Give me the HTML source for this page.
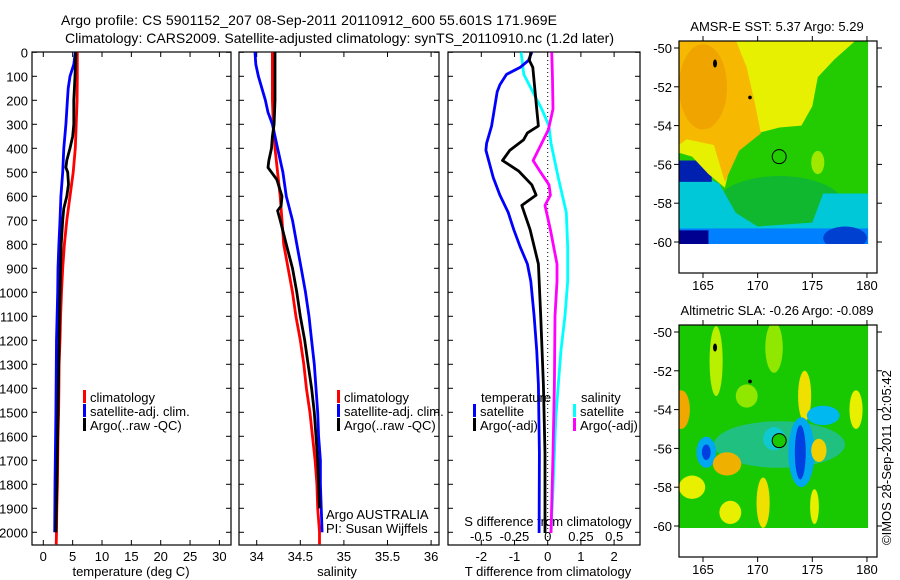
<!DOCTYPE html>
<html><head><meta charset="utf-8">
<style>
html,body{margin:0;padding:0;background:#fff;}
svg{display:block;font-family:"Liberation Sans",sans-serif;}
text{font-size:13px;fill:#000;}
</style></head>
<body>
<svg id="fig" width="900" height="580" viewBox="0 0 900 580" xmlns="http://www.w3.org/2000/svg">
<text x="61" y="25" textLength="496" style="font-size:14px">Argo profile: CS 5901152_207 08-Sep-2011 20110912_600 55.601S 171.969E</text>
<text x="65" y="43" textLength="549" style="font-size:14px">Climatology: CARS2009. Satellite-adjusted climatology: synTS_20110910.nc (1.2d later)</text>
<g id="plots"></g>
</svg>
<script>
// ---------- data ----------
const tDepth = [0,100,200,300,400,500,600,700,800,900,1000,1100,1200,1300,1400,1500,1600,1700,1800,1900,2000,2050];
const tClim  = [5.8,5.8,5.75,5.6,5.45,5.1,4.55,4.0,3.6,3.3,3.1,2.95,2.85,2.7,2.65,2.6,2.5,2.45,2.4,2.3,2.25,2.2];
const tSatDepth = [0,50,100,150,200,300,400,500,600,700,800,900,1000,1200,1500,1800,2000];
const tSat   = [5.45,5.2,4.55,4.25,4.1,3.85,3.5,3.3,3.0,2.85,2.65,2.5,2.45,2.25,2.15,2.0,1.95];
const tArgoDepth = [0,100,200,300,350,400,450,480,500,550,600,650,700,800,900,1000,1200,1500,1800,2000];
const tArgo  = [5.55,5.4,5.2,5.2,5.0,4.55,4.0,3.85,4.15,4.3,4.0,3.5,3.3,3.05,2.95,2.85,2.7,2.5,2.3,2.15];

const sClim  = [34.18,34.18,34.18,34.19,34.21,34.24,34.27,34.29,34.31,34.36,34.41,34.45,34.5,34.54,34.57,34.61,34.64,34.67,34.69,34.70,34.72,34.72];
const sSatDepth = [0,50,100,150,200,250,300,400,500,600,700,800,900,1000,1100,1200,1300,1400,1500,1600,1700,1800,2000];
const sSat   = [33.98,33.99,34.02,34.06,34.10,34.13,34.18,34.24,34.30,34.34,34.41,34.46,34.51,34.56,34.60,34.63,34.66,34.68,34.70,34.71,34.73,34.73,34.75];
const sArgoDepth = [0,100,200,300,350,400,450,480,500,530,600,640,660,700,800,900,1000,1100,1200,1300,1400,1500,1600,1700,1800,1900];
const sArgo  = [34.21,34.21,34.21,34.20,34.18,34.17,34.14,34.13,34.17,34.23,34.29,34.28,34.24,34.27,34.34,34.41,34.46,34.5,34.55,34.59,34.63,34.66,34.68,34.70,34.71,34.72];

const dTSatDepth = [0,34,63,92,135,164,307,379,408,523,595,667,739,810,882,954,1098,1241,1385,1672,2003];
const dTSat = [-0.48,-0.58,-0.83,-1.24,-1.44,-1.52,-1.69,-1.84,-1.86,-1.64,-1.44,-1.19,-1.02,-0.83,-0.61,-0.51,-0.41,-0.33,-0.28,-0.25,-0.26];
const dTArgoDepth = [0,34,63,164,236,307,336,365,408,451,494,552,595,638,739,882,1098,1385,1672,2003];
const dTArgo = [-0.51,-0.55,-0.45,-0.38,-0.33,-0.28,-0.61,-0.73,-1.14,-1.36,-0.88,-0.48,-0.35,-0.78,-0.53,-0.28,-0.21,-0.13,-0.08,-0.08];
const dSSatDepth = [0,92,135,236,307,379,523,667,810,954,1098,1241,1385,1529,1672,1816,2003];
const dSSat = [-0.2,-0.18,-0.14,-0.045,0.01,0.025,0.08,0.14,0.15,0.15,0.13,0.1,0.08,0.06,0.05,0.04,0.025];
const dSArgoDepth = [0,92,236,322,379,451,494,552,595,638,739,882,954,1098,1385,1672,2003];
const dSArgo = [0.03,0.035,0.04,0.005,-0.045,-0.11,-0.06,0.01,0.02,-0.02,0.02,0.07,0.07,0.055,0.05,0.04,0.025];

const depthTicks = [0,100,200,300,400,500,600,700,800,900,1000,1100,1200,1300,1400,1500,1600,1700,1800,1900,2000];
const tTicks = [0,5,10,15,20,25,30];
const sTicks = [34,34.5,35,35.5,36];
const dTTicks = [-2,-1,0,1,2];
const dSTicks = [-0.5,-0.25,0,0.25,0.5];
const lonTicks = [165,170,175,180];
const latTicks = [-50,-52,-54,-56,-58,-60];

// ---------- helpers ----------
const NS = "http://www.w3.org/2000/svg";
const root = document.getElementById('plots');
function mk(tag, attrs, parent, txt){
  const e = document.createElementNS(NS, tag);
  for (const k in attrs) e.setAttribute(k, attrs[k]);
  if (txt !== undefined) e.textContent = txt;
  (parent || root).appendChild(e);
  return e;
}
const TOP = 52, BOT = 545;
const yD = d => 52.3 + d * 0.24;
const LBL_Y = 561, TITLE_Y = 576;

function panel(x0, x1, name){
  const g = mk('g', {});
  
  
  const r = mk('rect', {x:x0, y:TOP, width:x1-x0, height:BOT-TOP, fill:'none', stroke:'#000', 'stroke-width':1.2}, g);
  
  
  depthTicks.forEach(d => {
    const y = yD(d);
    mk('line', {x1:x0, x2:x0+5, y1:y, y2:y, stroke:'#000'}, g);
    mk('line', {x1:x1-5, x2:x1, y1:y, y2:y, stroke:'#000'}, g);
  });
  return g;
}
function xticks(g, ticks, fx, labelY, fmt){
  ticks.forEach(v => {
    const x = fx(v);
    mk('line', {x1:x, x2:x, y1:BOT, y2:BOT-5, stroke:'#000'}, g);
    mk('line', {x1:x, x2:x, y1:TOP, y2:TOP+5, stroke:'#000'}, g);
    const t = mk('text', {x:x, y:labelY, 'text-anchor':'middle'}, g, fmt ? fmt(v) : String(v));
    
    
  });
}
function series(g, xs, ds, fx, color, name){
  let d = '';
  xs.forEach((v, i) => { d += (i ? 'L' : 'M') + fx(v).toFixed(1) + ',' + yD(ds[i]).toFixed(1); });
  const p = mk('path', {d:d, fill:'none', stroke:color, 'stroke-width':2.8, 'stroke-linejoin':'round'}, g);
  
  
}
function legendEntry(g, x, y, color, label, name){
  mk('rect', {x:x, y:y-7, width:3, height:13, fill:color}, g);
  const t = mk('text', {x:x+7, y:y+5}, g, label);
  
  
}

// ---------- depth axis labels ----------
depthTicks.forEach(d => {
  const t = mk('text', {x:28, y:yD(d)+5, 'text-anchor':'end'}, root, String(d));
  
  
});

// ---------- panel 1: temperature ----------
const fT = v => 43.3 + v * 5.87;
const g1 = panel(32, 231, 'temperature-panel');
xticks(g1, tTicks, fT, LBL_Y);
const xt1 = mk('text', {x:131, y:TITLE_Y, 'text-anchor':'middle'}, g1, 'temperature (deg C)');


series(g1, tClim, tDepth, fT, '#ff0000', 'temperature-climatology-line');
series(g1, tSat, tSatDepth, fT, '#0000ff', 'temperature-satellite-line');
series(g1, tArgo, tArgoDepth, fT, '#000000', 'temperature-argo-line');
legendEntry(g1, 83, 397, '#ff0000', 'climatology', 'legend-climatology');
legendEntry(g1, 83, 411, '#0000ff', 'satellite-adj. clim.', 'legend-satellite');
legendEntry(g1, 83, 425, '#000000', 'Argo(..raw -QC)', 'legend-argo');

// ---------- panel 2: salinity ----------
const fS = v => 256.7 + (v - 34) * 87.2;
const g2 = panel(239, 439, 'salinity-panel');
xticks(g2, sTicks, fS, LBL_Y);
const xt2 = mk('text', {x:337, y:TITLE_Y, 'text-anchor':'middle'}, g2, 'salinity');


series(g2, sClim, tDepth, fS, '#ff0000', 'salinity-climatology-line');
series(g2, sSat, sSatDepth, fS, '#0000ff', 'salinity-satellite-line');
series(g2, sArgo, sArgoDepth, fS, '#000000', 'salinity-argo-line');
legendEntry(g2, 337, 397, '#ff0000', 'climatology', 'legend-climatology-2');
legendEntry(g2, 337, 411, '#0000ff', 'satellite-adj. clim.', 'legend-satellite-2');
legendEntry(g2, 337, 425, '#000000', 'Argo(..raw -QC)', 'legend-argo-2');
const ag = mk('text', {x:326, y:519}, g2, 'Argo AUSTRALIA');


const pi = mk('text', {x:326, y:533}, g2, 'PI: Susan Wijffels');



// ---------- panel 3: differences ----------
const fDT = v => 547.7 + v * 33.2;
const fDS = v => 547.7 + v * 133;
const g3 = panel(448, 640, 'difference-panel');
xticks(g3, dTTicks, fDT, LBL_Y);
dSTicks.forEach(v => {
  const t = mk('text', {x:fDS(v), y:541, 'text-anchor':'middle'}, g3, String(v));
  
  
});
const sdt = mk('text', {x:548, y:526, 'text-anchor':'middle'}, g3, 'S difference from climatology');


const xt3 = mk('text', {x:548, y:TITLE_Y, 'text-anchor':'middle'}, g3, 'T difference from climatology');


const zl = mk('line', {x1:fDT(0), x2:fDT(0), y1:TOP, y2:BOT, stroke:'#000', 'stroke-dasharray':'1,3'}, g3);


series(g3, dSSat, dSSatDepth, fDS, '#00ffff', 'salinity-satellite-diff-line');
series(g3, dSArgo, dSArgoDepth, fDS, '#ff00ff', 'salinity-argo-diff-line');
series(g3, dTSat, dTSatDepth, fDT, '#0000ff', 'temperature-satellite-diff-line');
series(g3, dTArgo, dTArgoDepth, fDT, '#000000', 'temperature-argo-diff-line');
const lt = mk('text', {x:481, y:402}, g3, 'temperature');


const ls = mk('text', {x:581, y:402}, g3, 'salinity');


legendEntry(g3, 473, 411, '#0000ff', 'satellite', 'legend-t-satellite');
legendEntry(g3, 473, 425, '#000000', 'Argo(-adj)', 'legend-t-argo');
legendEntry(g3, 573, 411, '#00ffff', 'satellite', 'legend-s-satellite');
legendEntry(g3, 573, 425, '#ff00ff', 'Argo(-adj)', 'legend-s-argo');

// ---------- maps ----------
function map(top, latM50, latM60, name, title, patches, circleFill){
  const g = mk('g', {});
  
  
  const fx = lon => 703 + (lon - 165) * 10.93;
  const fy = lat => latM50 + (-50 - lat) * (latM60 - latM50) / 10;
  const clipId = name + '-clip';
  const cp = mk('clipPath', {id:clipId}, g);
  mk('rect', {x:fx(162.8), y:fy(-49.65), width:fx(180.1)-fx(162.8), height:fy(-60.1)-fy(-49.65)}, cp);
  const pg = mk('g', {'clip-path':'url(#'+clipId+')'}, g);
  patches.forEach(p => {
    if (p.t === 'r') mk('rect', {x:fx(p.a), y:fy(p.b), width:fx(p.c)-fx(p.a), height:fy(p.d)-fy(p.b), fill:p.f}, pg);
    else if (p.t === 'e') mk('ellipse', {cx:fx(p.a), cy:fy(p.b), rx:p.c*10.93, ry:p.d*19.4, fill:p.f}, pg);
    else mk('polygon', {points:p.pts.map(q => fx(q[0]).toFixed(1)+','+fy(q[1]).toFixed(1)).join(' '), fill:p.f}, pg);
  });
  mk('ellipse', {cx:fx(166.1), cy:fy(-50.8), rx:2, ry:4, fill:'#000'}, g);
  mk('circle', {cx:fx(169.3), cy:fy(-52.55), r:1.8, fill:'#000'}, g);
  const c = mk('circle', {cx:fx(171.97), cy:fy(-55.6), r:7, fill:circleFill, stroke:'#000', 'stroke-width':1}, g);
  
  
  const boxBot = top + 232;
  const fr = mk('rect', {x:679, y:top, width:198, height:232, fill:'none', stroke:'#000', 'stroke-width':1.2}, g);
  
  
  lonTicks.forEach(l => {
    const x = fx(l);
    mk('line', {x1:x, x2:x, y1:top, y2:top-5, stroke:'#000'}, g);
    mk('line', {x1:x, x2:x, y1:boxBot, y2:boxBot+5, stroke:'#000'}, g);
    const t = mk('text', {x:x, y:boxBot+17, 'text-anchor':'middle'}, g, String(l));
    
    
  });
  latTicks.forEach(l => {
    const y = fy(l);
    mk('line', {x1:679, x2:674, y1:y, y2:y, stroke:'#000'}, g);
    mk('line', {x1:877, x2:882, y1:y, y2:y, stroke:'#000'}, g);
    const t = mk('text', {x:672, y:y+5, 'text-anchor':'end'}, g, String(l));
    
    
  });
  const tt = mk('text', {x:777, y:top-10, 'text-anchor':'middle'}, g, title);
  
  
}
const sstPatches = [
  {t:'r', a:162, b:-49, c:181, d:-61, f:'#22cc00'},
  {t:'e', a:172, b:-58.2, c:6, d:1.6, f:'#10b830'},
  {t:'p', f:'#00c8d8', pts:[[162.8,-56],[166.5,-57],[168,-58.5],[170,-59.2],[175,-59],[176,-57.5],[180.2,-57.5],[180.2,-60.2],[162.8,-60.2]]},
  {t:'r', a:162.8, b:-59.3, c:180.2, d:-60.2, f:'#0080ff'},
  {t:'e', a:178, b:-59.8, c:2, d:0.6, f:'#0040d0'},
  {t:'r', a:162.8, b:-55.8, c:165.8, d:-56.9, f:'#0020b0'},
  {t:'r', a:162.8, b:-59.4, c:165.5, d:-60.2, f:'#000090'},
  {t:'p', f:'#e6f000', pts:[[162.8,-49.6],[179,-49.6],[177,-50.6],[175.5,-51.5],[175,-53],[174,-54],[172,-54.1],[168.5,-54.6],[167.5,-56],[167,-57.2],[165.5,-56.5],[164,-55.6],[162.8,-55.4]]},
  {t:'p', f:'#f6b800', pts:[[162.8,-49.6],[168,-49.6],[169,-51],[169.8,-53],[170.3,-54.4],[168.3,-55.3],[167,-56.9],[166,-55],[163.5,-54.7],[162.8,-55]]},
  {t:'e', a:165, b:-52, c:2.2, d:2.2, f:'#f0a400'},
  {t:'e', a:175.5, b:-55.9, c:0.6, d:0.6, f:'#a0e800'},
  {t:'e', a:168.4, b:-56, c:0.5, d:0.4, f:'#22cc00'}
];
const slaPatches = [
  {t:'r', a:162, b:-49, c:181, d:-61, f:'#18c800'},
  {t:'e', a:166.2, b:-51.5, c:0.6, d:1.8, f:'#b8f000'},
  {t:'e', a:171.5, b:-50.8, c:0.8, d:1.3, f:'#90e800'},
  {t:'e', a:174.3, b:-53.3, c:0.6, d:1.3, f:'#f0e000'},
  {t:'e', a:169, b:-53.3, c:1.0, d:0.6, f:'#90e800'},
  {t:'e', a:163, b:-54, c:0.8, d:1.0, f:'#f0a800'},
  {t:'e', a:179, b:-54, c:0.6, d:1.0, f:'#e8f000'},
  {t:'e', a:172, b:-55.8, c:6, d:1.2, f:'#20c080'},
  {t:'e', a:176, b:-54.3, c:1.5, d:0.5, f:'#00b8f0'},
  {t:'e', a:174, b:-56.2, c:1.2, d:1.8, f:'#00a8f0'},
  {t:'e', a:173.9, b:-56.2, c:0.5, d:1.4, f:'#0040e0'},
  {t:'e', a:171.5, b:-55.5, c:1.0, d:0.6, f:'#10c8d0'},
  {t:'e', a:165.3, b:-56.2, c:0.9, d:0.8, f:'#00a8f0'},
  {t:'e', a:165.3, b:-56.2, c:0.4, d:0.4, f:'#0040e0'},
  {t:'e', a:167.2, b:-56.8, c:1.3, d:0.6, f:'#f0b000'},
  {t:'e', a:164, b:-58, c:1.2, d:0.6, f:'#e8f000'},
  {t:'e', a:170.5, b:-58.8, c:0.6, d:1.3, f:'#f0e000'},
  {t:'e', a:175.6, b:-56.1, c:0.7, d:0.6, f:'#f0d000'},
  {t:'e', a:175.2, b:-59, c:0.4, d:0.9, f:'#e8f000'},
  {t:'e', a:167.5, b:-59.3, c:1.0, d:0.6, f:'#e8f000'}
];
map(41, 48, 242, 'sst-map', 'AMSR-E SST: 5.37 Argo: 5.29', sstPatches, 'none');
map(325, 332, 526, 'sla-map', 'Altimetric SLA: -0.26 Argo: -0.089', slaPatches, '#18c800');

const im = mk('text', {x:0, y:0, transform:'translate(891,545) rotate(-90)'}, root, '\u00A9IMOS 28-Sep-2011 02:05:42');


</script>
</body></html>
